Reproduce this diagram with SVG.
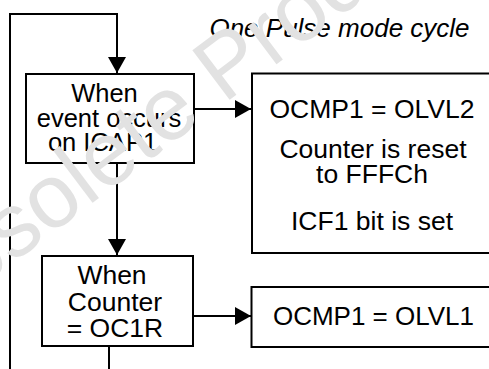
<svg xmlns="http://www.w3.org/2000/svg" width="489" height="369" viewBox="0 0 489 369">
<style>
.box{fill:#fff;stroke:#000;stroke-width:2}
.t{font-family:"Liberation Sans",Arial,Helvetica,sans-serif;font-size:25.5px;fill:#000;text-anchor:middle}
.ln{fill:none;stroke:#000;stroke-width:2}
.wm{font-family:"Liberation Sans",Arial,Helvetica,sans-serif;font-size:90px;fill:#e2e2e2}
</style>
<defs>
<marker id="ah" viewBox="0 0 16 18" refX="16" refY="9" markerWidth="16" markerHeight="18" markerUnits="userSpaceOnUse" orient="auto">
<path d="M0,0 L16,9 L0,18 z" fill="#000"/>
</marker>
</defs>
<rect width="489" height="369" fill="#fff"/>
<g id="connectors">
<path class="ln" d="M10,369 L10,14 L117,14 L117,73" marker-end="url(#ah)"/>
<path class="ln" d="M194,109 L251,109" marker-end="url(#ah)"/>
<path class="ln" d="M117,163 L117,255" marker-end="url(#ah)"/>
<path class="ln" d="M193,316 L251,316" marker-end="url(#ah)"/>
<path class="ln" d="M109,346 L109,369"/>
</g>
<g id="title">
<text class="t" x="339.5" y="37" style="font-style:italic;font-size:26px">One Pulse mode cycle</text>
</g>
<g id="node-event">
<rect class="box" x="26" y="74" width="168" height="89"/>
<text class="t" x="104.5" y="102">When</text>
<text class="t" x="109" y="127">event occurs</text>
<text class="t" x="102.5" y="151">on ICAP1</text>
</g>
<g id="node-olvl2">
<rect class="box" x="252" y="73.5" width="245" height="179.5"/>
<text class="t" x="372" y="118" style="font-size:26.5px">OCMP1 = OLVL2</text>
<text class="t" x="373" y="158" style="font-size:26.5px">Counter is reset</text>
<text class="t" x="372" y="183" style="font-size:26.5px">to FFFCh</text>
<text class="t" x="372" y="230" style="font-size:26.5px">ICF1 bit is set</text>
</g>
<g id="node-counter">
<rect class="box" x="42" y="256" width="151" height="90"/>
<text class="t" x="112" y="284" style="font-size:26.5px">When</text>
<text class="t" x="115" y="311" style="font-size:26.5px">Counter</text>
<text class="t" x="115" y="337" style="font-size:26.5px">= OC1R</text>
</g>
<g id="node-olvl1">
<rect class="box" x="251.5" y="287" width="245" height="60"/>
<text class="t" x="373.5" y="325" style="font-size:26px">OCMP1 = OLVL1</text>
</g>
<g id="watermark">
<text class="wm" x="0" y="0" transform="translate(-84,336) rotate(-37)">Obsolete Product(s)</text>
</g>
</svg>
